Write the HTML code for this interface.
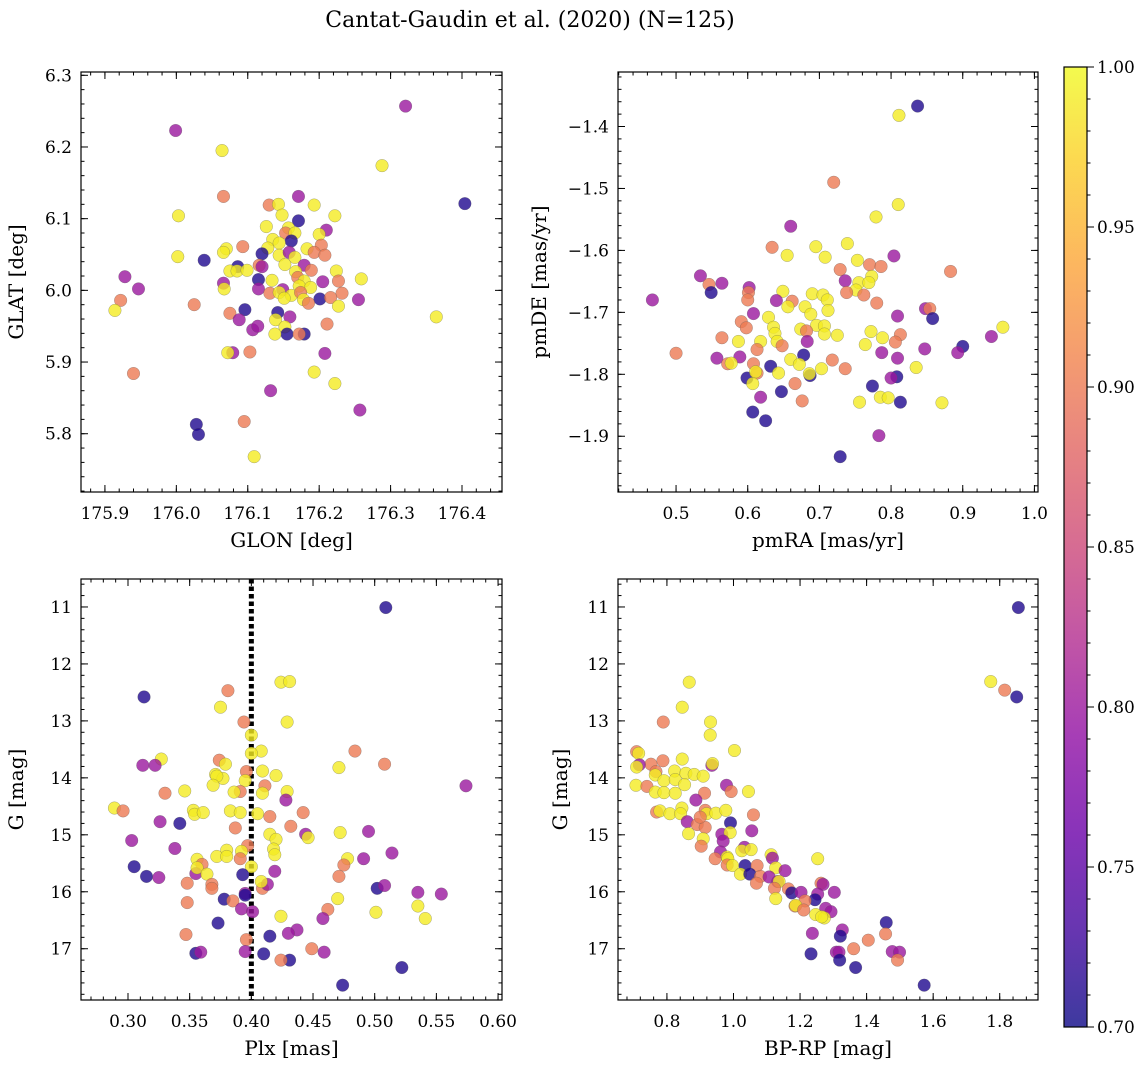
<!DOCTYPE html>
<html><head><meta charset="utf-8"><style>
html,body{margin:0;padding:0;background:#fff;}
svg{display:block;font-family:"DejaVu Serif","Liberation Serif",serif;}
</style></head><body>
<svg id="fig" width="1148" height="1067" viewBox="0 0 1148 1067" xmlns="http://www.w3.org/2000/svg">
<rect width="1148" height="1067" fill="#fff"/>
<text x="530" y="27" font-size="22" text-anchor="middle">Cantat-Gaudin et al. (2020) (N=125)</text>
<defs><linearGradient id="plasma" x1="0" y1="1" x2="0" y2="0">
<stop offset="0" stop-color="#0d0887"/><stop offset="0.1" stop-color="#41049d"/><stop offset="0.2" stop-color="#6a00a8"/><stop offset="0.3" stop-color="#8f0da4"/><stop offset="0.4" stop-color="#b12a90"/><stop offset="0.5" stop-color="#cc4778"/><stop offset="0.6" stop-color="#e16462"/><stop offset="0.7" stop-color="#f2844b"/><stop offset="0.8" stop-color="#fca636"/><stop offset="0.9" stop-color="#fcce25"/><stop offset="1" stop-color="#f0f921"/>
</linearGradient></defs>
<g id="layer"></g>
</svg>
<script>
// membership probabilities codes: 0.99 yellow, 0.90 salmon, 0.80 magenta, 0.71 blue
const glon=[176.321,175.999,176.064,176.288,176.404,176.066,176.171,176.130,176.143,176.193,176.003,176.148,176.222,176.171,176.126,176.157,176.210,176.153,176.166,176.200,176.135,176.161,176.144,176.203,176.093,176.128,176.070,176.066,176.183,176.120,176.144,176.158,176.193,176.208,176.002,176.166,176.039,176.152,176.116,176.179,176.120,176.086,176.075,176.085,176.099,176.167,176.189,176.224,176.115,176.134,176.170,176.259,175.928,176.066,176.205,176.227,176.179,176.172,176.188,175.947,176.067,176.115,176.149,176.131,176.144,176.161,176.174,176.232,175.922,176.025,176.201,176.216,176.255,176.151,176.178,176.185,176.227,175.914,176.096,176.142,176.075,176.088,176.159,176.139,176.364,176.107,176.114,176.152,176.155,176.138,176.179,176.172,176.211,176.079,176.072,176.103,176.208,175.940,176.193,176.222,176.132,176.257,176.095,176.028,176.031,176.109];
const glat=[6.257,6.223,6.195,6.174,6.121,6.131,6.131,6.119,6.120,6.119,6.104,6.105,6.104,6.097,6.089,6.087,6.084,6.080,6.080,6.078,6.071,6.069,6.066,6.063,6.061,6.059,6.058,6.053,6.058,6.051,6.049,6.053,6.053,6.049,6.047,6.046,6.042,6.036,6.035,6.035,6.033,6.033,6.027,6.027,6.028,6.026,6.028,6.027,6.015,6.014,6.018,6.016,6.019,6.010,6.012,6.013,6.013,6.006,6.004,6.002,6.002,6.002,6.001,5.996,5.997,5.993,5.997,5.996,5.986,5.980,5.988,5.990,5.987,5.989,5.987,5.982,5.978,5.972,5.973,5.969,5.968,5.959,5.963,5.959,5.963,5.945,5.950,5.949,5.939,5.939,5.939,5.939,5.953,5.913,5.913,5.914,5.912,5.884,5.886,5.870,5.860,5.833,5.817,5.813,5.799,5.768];
const prob1=[.80,.80,.99,.99,.71,.90,.80,.90,.99,.99,.99,.99,.99,.71,.99,.99,.80,.90,.99,.99,.99,.71,.99,.90,.90,.99,.99,.99,.99,.71,.99,.80,.90,.90,.99,.99,.71,.99,.90,.80,.80,.71,.99,.99,.99,.99,.90,.99,.71,.99,.90,.99,.80,.80,.80,.90,.99,.99,.99,.80,.99,.80,.80,.90,.99,.99,.90,.90,.90,.90,.71,.90,.80,.99,.99,.90,.99,.99,.71,.71,.90,.80,.80,.99,.99,.80,.80,.99,.71,.99,.71,.90,.90,.80,.99,.90,.80,.90,.99,.99,.80,.80,.90,.71,.71,.99];
const pmra=[.837,.811,.720,.810,.779,.660,.695,.634,.739,.655,.708,.804,.753,.770,.786,.729,.883,.534,.773,.546,.564,.736,.755,.769,.602,.549,.751,.601,.649,.690,.705,.738,.762,.467,.600,.640,.662,.711,.780,.656,.680,.712,.848,.854,.608,.688,.629,.809,.858,.591,.598,.636,.696,.707,.674,.682,.772,.956,.638,.707,.725,.813,.564,.788,.940,.587,.618,.641,.648,.683,.806,.764,.847,.900,.613,.678,.787,.893,.557,.589,.809,.500,.660,.718,.572,.577,.672,.608,.632,.703,.736,.835,.599,.613,.611,.643,.687,.686,.808,.800,.607,.666,.774,.647,.618,.785,.796,.756,.676,.813,.871,.607,.625,.783,.729];
const pmde=[-1.367,-1.382,-1.490,-1.526,-1.546,-1.561,-1.594,-1.595,-1.589,-1.608,-1.611,-1.609,-1.616,-1.623,-1.626,-1.631,-1.634,-1.641,-1.642,-1.655,-1.653,-1.649,-1.652,-1.652,-1.660,-1.668,-1.664,-1.668,-1.666,-1.670,-1.672,-1.668,-1.672,-1.680,-1.680,-1.681,-1.682,-1.680,-1.685,-1.691,-1.691,-1.697,-1.694,-1.694,-1.702,-1.703,-1.708,-1.706,-1.710,-1.715,-1.725,-1.724,-1.721,-1.722,-1.727,-1.730,-1.731,-1.724,-1.734,-1.735,-1.737,-1.736,-1.741,-1.741,-1.739,-1.747,-1.747,-1.747,-1.754,-1.747,-1.748,-1.752,-1.759,-1.755,-1.760,-1.769,-1.765,-1.765,-1.774,-1.772,-1.774,-1.766,-1.776,-1.777,-1.783,-1.782,-1.784,-1.783,-1.787,-1.791,-1.791,-1.789,-1.806,-1.798,-1.796,-1.798,-1.802,-1.799,-1.804,-1.806,-1.815,-1.815,-1.819,-1.828,-1.837,-1.837,-1.838,-1.845,-1.843,-1.845,-1.846,-1.861,-1.875,-1.899,-1.933];
const prob2=[.71,.99,.90,.99,.99,.80,.99,.90,.99,.99,.99,.80,.99,.90,.90,.90,.90,.80,.99,.90,.80,.80,.99,.99,.80,.71,.99,.90,.99,.99,.99,.90,.90,.80,.90,.80,.90,.99,.90,.99,.99,.99,.80,.90,.80,.99,.99,.80,.71,.90,.90,.99,.99,.99,.99,.90,.99,.99,.99,.99,.99,.90,.90,.99,.80,.99,.99,.99,.90,.80,.90,.99,.80,.71,.90,.71,.80,.80,.80,.80,.80,.90,.99,.90,.90,.99,.99,.90,.71,.99,.90,.99,.71,.90,.99,.99,.71,.99,.71,.80,.99,.90,.71,.71,.80,.99,.99,.99,.90,.71,.99,.71,.71,.80,.71];
const plx=[.509,.424,.431,.381,.313,.375,.394,.429,.400,.484,.408,.400,.327,.312,.322,.374,.379,.471,.508,.396,.409,.371,.420,.377,.372,.395,.369,.574,.411,.409,.330,.346,.391,.386,.429,.428,.289,.296,.353,.354,.361,.383,.391,.405,.415,.442,.326,.342,.387,.432,.415,.444,.446,.472,.495,.420,.303,.338,.397,.380,.392,.372,.380,.418,.419,.391,.356,.491,.514,.478,.305,.360,.355,.356,.364,.400,.419,.475,.315,.325,.393,.348,.368,.368,.409,.413,.408,.471,.502,.508,.535,.554,.395,.395,.378,.385,.348,.470,.535,.462,.392,.401,.424,.501,.541,.458,.373,.437,.430,.415,.347,.396,.449,.459,.355,.359,.395,.410,.431,.424,.522,.474];
const gmag3=[11.01,12.32,12.31,12.47,12.58,12.76,13.02,13.02,13.25,13.53,13.53,13.57,13.67,13.78,13.78,13.69,13.76,13.82,13.76,13.89,13.88,13.94,13.96,14.01,13.97,14.05,14.13,14.14,14.14,14.27,14.27,14.23,14.24,14.25,14.24,14.39,14.53,14.58,14.57,14.64,14.61,14.58,14.61,14.63,14.68,14.61,14.77,14.80,14.88,14.85,14.99,14.99,15.05,14.96,14.94,15.08,15.10,15.24,15.19,15.27,15.29,15.38,15.38,15.25,15.35,15.42,15.43,15.42,15.32,15.42,15.56,15.52,15.68,15.58,15.69,15.56,15.64,15.53,15.73,15.75,15.70,15.85,15.87,15.94,15.94,15.87,15.82,15.73,15.94,15.89,16.01,16.04,16.03,16.06,16.13,16.16,16.19,16.12,16.25,16.31,16.30,16.35,16.43,16.36,16.47,16.47,16.55,16.67,16.73,16.78,16.75,16.84,17.00,17.06,17.08,17.06,17.05,17.09,17.20,17.20,17.33,17.64];
const prob3=[.71,.99,.99,.90,.71,.99,.90,.99,.99,.90,.99,.99,.99,.80,.80,.90,.99,.99,.90,.90,.99,.99,.99,.99,.99,.99,.99,.80,.90,.99,.90,.99,.90,.99,.99,.80,.99,.90,.99,.99,.99,.99,.99,.99,.90,.90,.80,.71,.90,.90,.99,.80,.99,.99,.80,.99,.80,.80,.90,.99,.99,.99,.99,.99,.99,.90,.99,.80,.80,.99,.71,.90,.80,.99,.99,.99,.80,.90,.71,.80,.71,.90,.90,.90,.90,.80,.99,.90,.71,.80,.80,.80,.80,.71,.71,.90,.90,.99,.99,.90,.80,.80,.99,.99,.99,.80,.71,.80,.80,.71,.90,.90,.90,.80,.71,.80,.80,.71,.71,.90,.71,.71];
const bprp=[1.856,1.773,1.815,1.851,.867,.846,.789,.931,.930,1.003,.709,.715,.788,.846,.752,.717,.709,.935,.937,.823,.767,.765,.857,.882,.909,.791,.825,.853,.707,.740,.979,.993,1.045,.765,.791,.825,.913,.887,.769,.779,.809,.845,.841,.915,.919,.947,.977,1.060,.991,.861,.891,.915,.900,1.055,.865,.965,.990,.969,.909,.903,1.033,1.025,1.053,.961,.945,.981,.983,.981,.997,1.035,1.071,1.253,1.113,1.117,1.127,1.155,1.021,1.049,1.081,1.069,1.107,1.133,1.137,1.123,1.165,1.175,1.203,1.263,1.269,1.303,1.253,1.245,1.127,1.215,1.185,1.187,1.211,1.277,1.293,1.247,1.273,1.265,1.327,1.321,1.237,1.459,1.457,1.405,1.361,1.233,1.309,1.317,1.319,1.477,1.499,1.493,1.367,1.573];
const gmag4=[11.01,12.31,12.46,12.58,12.32,12.76,13.02,13.02,13.25,13.52,13.54,13.57,13.70,13.67,13.76,13.77,13.81,13.78,13.75,13.88,13.89,13.95,13.92,13.94,13.97,14.05,14.03,14.12,14.13,14.15,14.13,14.24,14.24,14.25,14.26,14.27,14.27,14.39,14.60,14.58,14.63,14.53,14.63,14.57,14.63,14.62,14.57,14.65,14.79,14.77,14.82,14.87,14.69,14.93,14.98,14.99,14.96,15.11,15.07,15.20,15.22,15.28,15.26,15.30,15.42,15.39,15.42,15.53,15.54,15.54,15.54,15.42,15.35,15.41,15.58,15.63,15.69,15.69,15.73,15.85,15.74,15.82,15.82,15.94,15.95,16.02,16.01,15.85,15.87,16.01,16.04,16.14,16.12,16.16,16.25,16.24,16.32,16.29,16.35,16.40,16.46,16.44,16.67,16.78,16.73,16.54,16.74,16.85,17.00,17.09,17.06,17.06,17.20,17.05,17.06,17.20,17.33,17.64];
const prob4=[.71,.99,.90,.71,.99,.99,.90,.99,.99,.99,.90,.99,.90,.99,.90,.80,.99,.80,.99,.99,.90,.99,.99,.99,.99,.99,.99,.99,.99,.90,.80,.90,.99,.99,.99,.99,.90,.80,.90,.99,.99,.99,.99,.90,.99,.99,.99,.90,.71,.80,.90,.90,.90,.80,.99,.80,.99,.80,.99,.90,.80,.99,.99,.80,.90,.99,.99,.90,.99,.71,.90,.99,.99,.80,.99,.80,.99,.71,.90,.90,.80,.80,.99,.90,.90,.71,.80,.90,.80,.80,.80,.71,.99,.90,.90,.99,.90,.80,.80,.99,.99,.99,.80,.71,.80,.71,.90,.90,.90,.71,.80,.80,.71,.80,.80,.90,.71,.71];
const cbarTicks=[0.70,0.75,0.80,0.85,0.90,0.95,1.00];

const NS='http://www.w3.org/2000/svg';
const layer=document.getElementById('layer');
function mk(tag,attrs,parent){const e=document.createElementNS(NS,tag);for(const k in attrs)e.setAttribute(k,attrs[k]);(parent||layer).appendChild(e);return e;}
const stops=[[13,8,135],[65,4,157],[106,0,168],[143,13,164],[177,42,144],[204,71,120],[225,100,98],[242,132,75],[252,166,54],[252,206,37],[240,249,33]];
function plasma(p){let t=(p-0.7)/0.3;t=Math.max(0,Math.min(1,t))*10;const i=Math.min(9,Math.floor(t)),f=t-i;const a=stops[i],b=stops[i+1];return 'rgb('+a.map((v,k)=>Math.round(v+(b[k]-v)*f)).join(',')+')';}
function fmt(v,d){return (v<0?'\u2212':'')+Math.abs(v).toFixed(d);}
const TF=17,LF=20;

function panel(cfg){
  const g=mk('g',{});
  
  
  const sx=v=>cfg.x0+(v-cfg.xd[0])/(cfg.xd[1]-cfg.xd[0])*(cfg.x1-cfg.x0);
  const sy=v=>cfg.y1-(v-cfg.yd[0])/(cfg.yd[1]-cfg.yd[0])*(cfg.y1-cfg.y0);
  const xmin=Math.min(...cfg.xd),xmax=Math.max(...cfg.xd),ymin=Math.min(...cfg.yd),ymax=Math.max(...cfg.yd);
  for(let v=Math.ceil(xmin/cfg.xminor-1e-9)*cfg.xminor;v<=xmax+1e-9;v+=cfg.xminor){const X=sx(v);
    mk('line',{x1:X,x2:X,y1:cfg.y1,y2:cfg.y1-3.5,stroke:'#000','stroke-width':1},g);mk('line',{x1:X,x2:X,y1:cfg.y0,y2:cfg.y0+3.5,stroke:'#000','stroke-width':1},g);}
  for(let v=Math.ceil(ymin/cfg.yminor-1e-9)*cfg.yminor;v<=ymax+1e-9;v+=cfg.yminor){const Y=sy(v);
    mk('line',{x1:cfg.x0,x2:cfg.x0+3.5,y1:Y,y2:Y,stroke:'#000','stroke-width':1},g);mk('line',{x1:cfg.x1,x2:cfg.x1-3.5,y1:Y,y2:Y,stroke:'#000','stroke-width':1},g);}
  cfg.xticks.forEach(v=>{const X=sx(v);
    mk('line',{x1:X,x2:X,y1:cfg.y1,y2:cfg.y1-7,stroke:'#000','stroke-width':1},g);mk('line',{x1:X,x2:X,y1:cfg.y0,y2:cfg.y0+7,stroke:'#000','stroke-width':1},g);
    const t=mk('text',{x:X,y:cfg.y1+27,'font-size':TF,'text-anchor':'middle'},g);t.textContent=fmt(v,cfg.xdec);
    });
  cfg.yticks.forEach(v=>{const Y=sy(v);
    mk('line',{x1:cfg.x0,x2:cfg.x0+7,y1:Y,y2:Y,stroke:'#000','stroke-width':1},g);mk('line',{x1:cfg.x1,x2:cfg.x1-7,y1:Y,y2:Y,stroke:'#000','stroke-width':1},g);
    const t=mk('text',{x:cfg.x0-9,y:Y+6,'font-size':TF,'text-anchor':'end'},g);t.textContent=fmt(v,cfg.ydec);
    });
  if(cfg.vline!==undefined){const l=mk('line',{x1:sx(cfg.vline),x2:sx(cfg.vline),y1:cfg.y0,y2:cfg.y1,stroke:'#000','stroke-width':5,'stroke-dasharray':'4.5 3'},g);
    }
  for(let i=0;i<cfg.xs.length;i++){
    const c=mk('circle',{cx:sx(cfg.xs[i]),cy:sy(cfg.ys[i]),r:6.3,fill:plasma(cfg.ps[i]),'fill-opacity':0.8,stroke:'#555','stroke-opacity':0.5,'stroke-width':0.5},g);
    
    
  }
  const fr=mk('rect',{x:cfg.x0,y:cfg.y0,width:cfg.x1-cfg.x0,height:cfg.y1-cfg.y0,fill:'none',stroke:'#000','stroke-width':1.2},g);
  
  const xl=mk('text',{x:(cfg.x0+cfg.x1)/2,y:cfg.y1+55,'font-size':LF,'text-anchor':'middle'},g);xl.textContent=cfg.xlabel;
  
  const yx=cfg.ylx,yy=(cfg.y0+cfg.y1)/2;
  const yl=mk('text',{x:yx,y:yy,'font-size':LF,'text-anchor':'middle',transform:'rotate(-90 '+yx+' '+yy+')'},g);yl.textContent=cfg.ylabel;
  
}
function rng(a,b,s){const r=[];for(let v=a;v<=b+1e-9;v+=s)r.push(Math.round(v*1000)/1000);return r;}

panel({name:'panel-glon-glat',x0:81,x1:502,y0:72,y1:492,xd:[175.8665,176.456],yd:[5.7187,6.3046],xs:glon,ys:glat,ps:prob1,
 xticks:rng(175.9,176.4,0.1),yticks:rng(5.8,6.3,0.1),xminor:0.02,yminor:0.02,xdec:1,ydec:1,xlabel:'GLON [deg]',ylabel:'GLAT [deg]',ylx:23});
panel({name:'panel-pmra-pmde',x0:618,x1:1038,y0:72,y1:492,xd:[0.419,1.005],yd:[-1.990,-1.312],xs:pmra,ys:pmde,ps:prob2,
 xticks:rng(0.5,1.0,0.1),yticks:rng(-1.9,-1.4,0.1),xminor:0.02,yminor:0.02,xdec:1,ydec:1,xlabel:'pmRA [mas/yr]',ylabel:'pmDE [mas/yr]',ylx:546});
panel({name:'panel-plx-g',x0:81,x1:502,y0:579,y1:1000,xd:[0.2619,0.6032],yd:[17.90,10.509],xs:plx,ys:gmag3,ps:prob3,vline:0.40,
 xticks:rng(0.30,0.60,0.05),yticks:rng(11,17,1),xminor:0.01,yminor:0.2,xdec:2,ydec:0,xlabel:'Plx [mas]',ylabel:'G [mag]',ylx:23});
panel({name:'panel-bprp-g',x0:618,x1:1038,y0:579,y1:1000,xd:[0.653,1.915],yd:[17.90,10.509],xs:bprp,ys:gmag4,ps:prob4,
 xticks:rng(0.8,1.8,0.2),yticks:rng(11,17,1),xminor:0.04,yminor:0.2,xdec:1,ydec:0,xlabel:'BP-RP [mag]',ylabel:'G [mag]',ylx:567});

const cb=mk('g',{});


const cy0=67,cy1=1027,cx0=1064,cx1=1087;
const csy=v=>cy1-(v-0.7)/0.3*(cy1-cy0);
mk('rect',{x:cx0,y:cy0,width:cx1-cx0,height:cy1-cy0,fill:'url(#plasma)','fill-opacity':0.8},cb);
for(let v=0.70;v<=1.0001;v+=0.01){const Y=csy(v);mk('line',{x1:cx1,x2:cx1+3.5,y1:Y,y2:Y,stroke:'#000','stroke-width':1},cb);}
cbarTicks.forEach(v=>{const Y=csy(v);mk('line',{x1:cx1,x2:cx1+7,y1:Y,y2:Y,stroke:'#000','stroke-width':1},cb);
  const t=mk('text',{x:cx1+10,y:Y+6,'font-size':TF},cb);t.textContent=v.toFixed(2);
  });
mk('rect',{x:cx0,y:cy0,width:cx1-cx0,height:cy1-cy0,fill:'none',stroke:'#000','stroke-width':1.2},cb);
</script>
</body></html>
